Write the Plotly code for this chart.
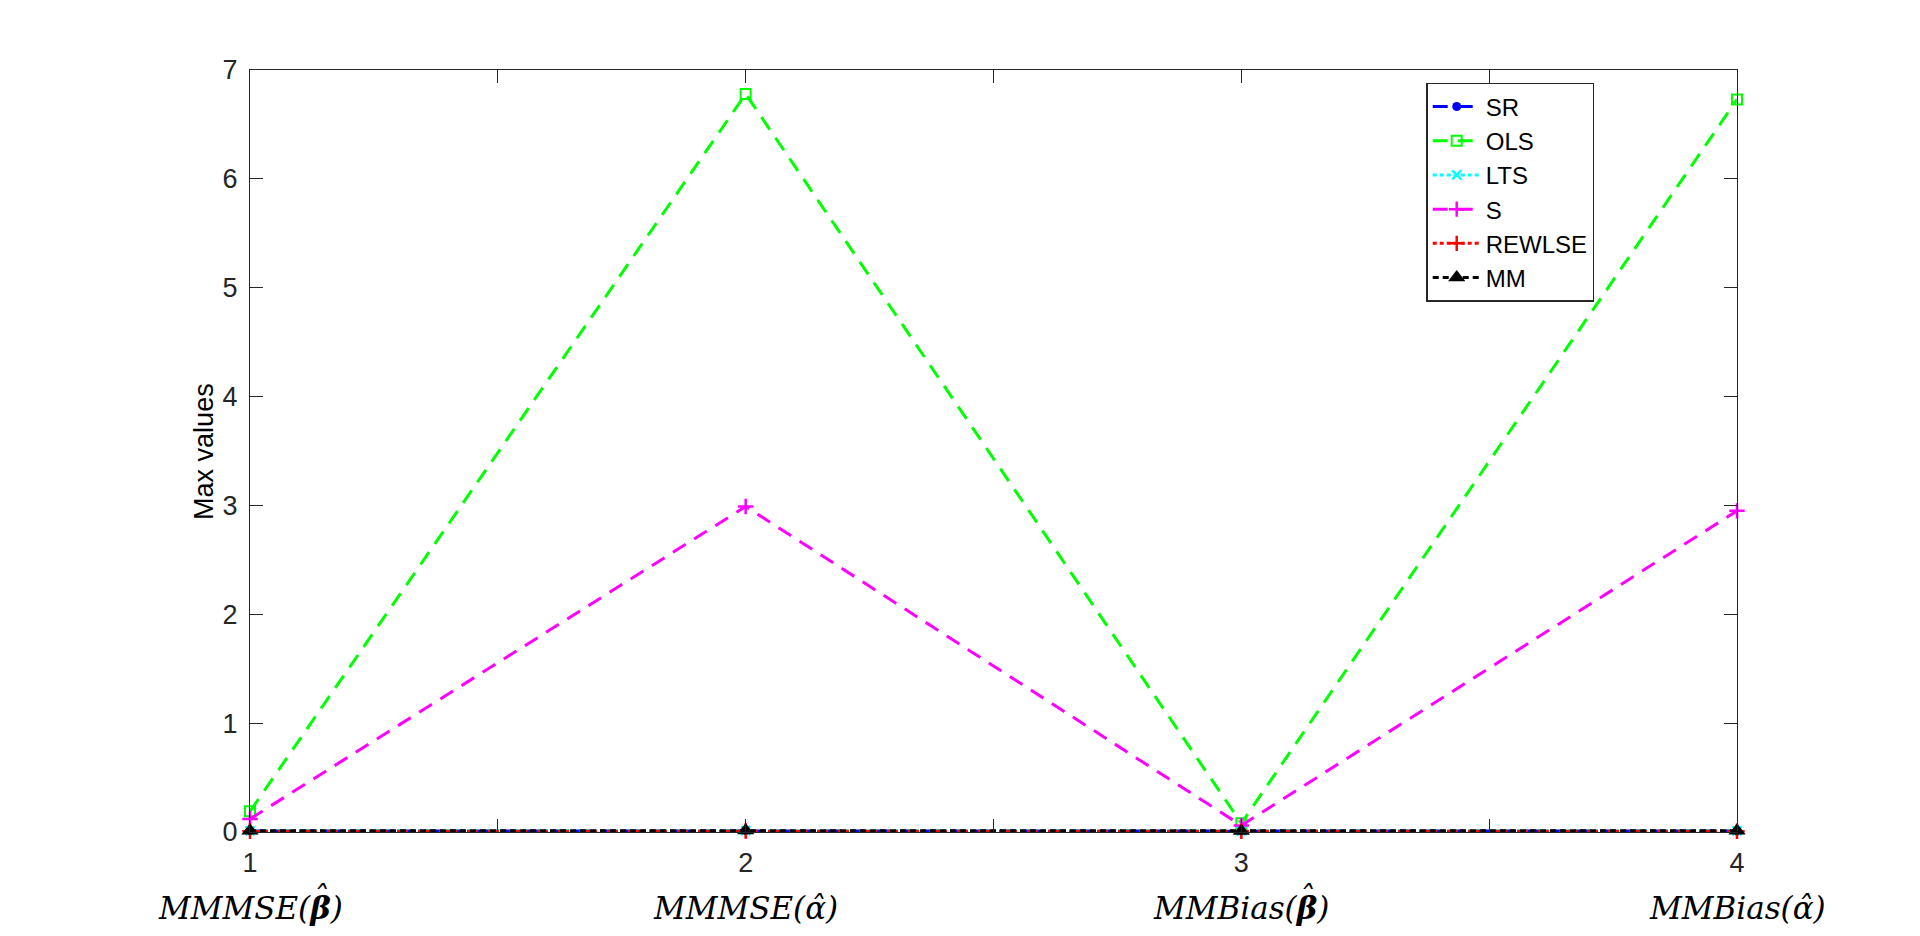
import plotly.graph_objects as go

x_pos = [1, 2, 3, 4]
x_tick_vals = [1, 1.5, 2, 2.5, 3, 3.5, 4]
x_tick_text = ["1", "", "2", "", "3", "", "4"]
y_tick_vals = [0, 1, 2, 3, 4, 5, 6, 7]
category_labels = ["MMMSE(<b>β</b>)", "MMMSE(α̂)", "MMBias(<b>β</b>)", "MMBias(α̂)"]
hat_needed = [True, False, True, False]

sr = [0.010, 0.012, 0.008, 0.009]
ols = [0.19, 6.78, 0.08, 6.73]
lts = [0.011, 0.013, 0.009, 0.010]
s_vals = [0.12, 2.99, 0.06, 2.95]
rewlse = [0.007, 0.009, 0.006, 0.007]
mm = [0.012, 0.014, 0.010, 0.011]

series = [
    ("SR", sr, "#0000ff", "15px,10px", dict(symbol="circle", size=9, color="#0000ff")),
    ("OLS", ols, "#00ff00", "15px,10px", dict(symbol="square-open", size=10, color="#00ff00", line=dict(width=2, color="#00ff00"))),
    ("LTS", lts, "#00ffff", "4px,3px", dict(symbol="x-thin", size=9, color="#00ffff", line=dict(width=2.5, color="#00ffff"))),
    ("S", s_vals, "#ff00ff", "15px,10px", dict(symbol="cross-thin", size=11, color="#ff00ff", line=dict(width=2.5, color="#ff00ff"))),
    ("REWLSE", rewlse, "#ff0000", "4px,3px", dict(symbol="cross-thin", size=11, color="#ff0000", line=dict(width=2.5, color="#ff0000"))),
    ("MM", mm, "#000000", "6px,4px", dict(symbol="triangle-up", size=15, color="#000000")),
]

fig = go.Figure()
for name, vals, col, dash, marker in series:
    fig.add_trace(go.Scatter(
        x=x_pos, y=vals, name=name, mode="lines+markers",
        line=dict(color=col, width=3, dash=dash),
        marker=marker, cliponaxis=False,
    ))

axis_col = "#262626"
fig.update_layout(
    width=1920, height=936,
    margin=dict(l=250, r=183, t=70, b=104),
    paper_bgcolor="white", plot_bgcolor="white",
    font=dict(family="Arial, Liberation Sans, sans-serif", size=27, color=axis_col),
    showlegend=True,
    legend=dict(
        x=0.791, y=0.983, xanchor="left", yanchor="top",
        bgcolor="white", bordercolor=axis_col, borderwidth=1.5,
        font=dict(size=24, color="#000000"), itemwidth=48,
        tracegroupgap=0,
    ),
    xaxis=dict(
        range=[1, 4], tickvals=x_tick_vals, ticktext=x_tick_text,
        showgrid=False, zeroline=False, showline=True, linecolor=axis_col, linewidth=1.2,
        mirror="ticks", ticks="inside", ticklen=13, tickcolor=axis_col, tickwidth=1,
        ticklabelstandoff=6, tickfont=dict(size=27, color=axis_col),
    ),
    yaxis=dict(
        range=[0, 7], tickvals=y_tick_vals,
        showgrid=False, zeroline=False, showline=True, linecolor=axis_col, linewidth=1.2,
        mirror="ticks", ticks="inside", ticklen=13, tickcolor=axis_col, tickwidth=1,
        ticklabelstandoff=6, tickfont=dict(size=27, color=axis_col),
    ),
)

fig.add_annotation(
    x=-0.031, y=0.5, xref="paper", yref="paper", text="Max values", showarrow=False,
    textangle=-90, xanchor="center", yanchor="middle",
    font=dict(size=27, color="#000000"),
)

label_font = dict(family="DejaVu Serif, Liberation Serif, serif", size=31, color="#000000", style="italic")
hat_shift = [70, 0, 65, 0]
for xv, lab, need, hs in zip(x_pos, category_labels, hat_needed, hat_shift):
    fig.add_annotation(
        x=xv, y=-0.1, xref="x", yref="paper", text=lab, showarrow=False,
        xanchor="center", yanchor="middle", font=label_font,
    )
    if need:
        fig.add_annotation(
            x=xv, y=-0.1, xref="x", yref="paper", text="ˆ", showarrow=False,
            xanchor="center", yanchor="middle", xshift=hs, yshift=10,
            font=label_font,
        )

fig.write_html("out.html")
